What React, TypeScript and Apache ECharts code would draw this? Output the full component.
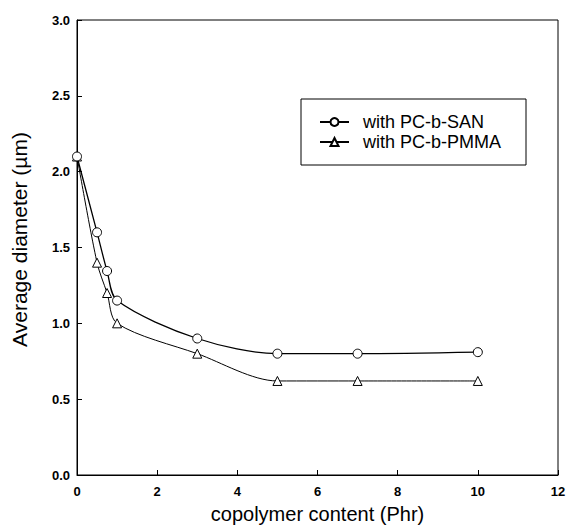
import React, { useEffect, useRef } from "react";
import * as echarts from "echarts";

const xContent = [0, 0.5, 0.75, 1, 3, 5, 7, 10];
const sanDiameter = [2.1, 1.6, 1.345, 1.15, 0.9, 0.8, 0.8, 0.81];
const pmmaDiameter = [2.1, 1.4, 1.2, 1.0, 0.8, 0.62, 0.62, 0.62];
const seriesNames = ["with PC-b-SAN", "with PC-b-PMMA"];
const xTitle = "copolymer content (Phr)";
const yTitle = "Average diameter (\u00b5m)";

const FONT = "'Liberation Sans', Arial, Helvetica, sans-serif";

export default function App() {
  const ref = useRef<HTMLDivElement>(null);
  useEffect(() => {
    if (!ref.current) return;
    const chart = echarts.init(ref.current, null, { renderer: "svg" });
    const pair = (ys: number[]) => xContent.map((x, i) => [x, ys[i]]);
    chart.setOption({
      animation: false,
      backgroundColor: "#ffffff",
      grid: {
        left: 77,
        right: 10,
        top: 20,
        bottom: 53,
        outerBoundsMode: "none",
        containLabel: false,
        show: true,
        borderColor: "#000",
        borderWidth: 1,
        backgroundColor: "transparent",
      },
      legend: {
        orient: "vertical",
        left: 301,
        top: 99,
        padding: [14, 25, 14, 18],
        itemGap: 2,
        itemWidth: 29,
        itemHeight: 10,
        borderColor: "#000",
        borderWidth: 1,
        backgroundColor: "#fff",
        textStyle: {
          fontFamily: FONT,
          fontSize: 18,
          color: "#000",
          lineHeight: 16,
          padding: [0, 0, 0, 9],
        },
        data: seriesNames,
      },
      xAxis: {
        type: "value",
        min: 0,
        max: 12,
        interval: 2,
        name: xTitle,
        nameLocation: "middle",
        nameGap: 29,
        nameTextStyle: { fontFamily: FONT, fontSize: 20, color: "#000" },
        axisLine: { show: true, lineStyle: { color: "#000", width: 1 } },
        axisTick: { show: true, inside: true, length: 5, lineStyle: { color: "#000" } },
        axisLabel: {
          fontFamily: FONT,
          fontWeight: "bold",
          fontSize: 13,
          color: "#000",
          margin: 10,
        },
        splitLine: { show: false },
      },
      yAxis: {
        type: "value",
        min: 0,
        max: 3,
        interval: 0.5,
        name: yTitle,
        nameLocation: "middle",
        nameGap: 47,
        nameTextStyle: {
          fontFamily: FONT,
          fontSize: 21,
          color: "#000",
          padding: [0, 0, 0, 16],
        },
        axisLine: { show: true, lineStyle: { color: "#000", width: 1 } },
        axisTick: { show: true, inside: true, length: 5, lineStyle: { color: "#000" } },
        axisLabel: {
          fontFamily: FONT,
          fontWeight: "bold",
          fontSize: 13,
          color: "#000",
          margin: 7,
          formatter: (v: number) => v.toFixed(1),
        },
        splitLine: { show: false },
      },
      series: [
        {
          name: seriesNames[0],
          type: "line",
          data: pair(sanDiameter),
          smooth: 0.3,
          symbol: "circle",
          symbolSize: 9,
          lineStyle: { color: "#000", width: 1.3 },
          itemStyle: { color: "#fff", borderColor: "#000", borderWidth: 1 },
          z: 3,
        },
        {
          name: seriesNames[1],
          type: "line",
          data: pair(pmmaDiameter),
          smooth: 0.3,
          symbol: "triangle",
          symbolSize: 9,
          lineStyle: { color: "#000", width: 1 },
          itemStyle: { color: "#fff", borderColor: "#000", borderWidth: 1 },
          z: 2,
        },
      ],
    });
    return () => chart.dispose();
  }, []);
  return <div ref={ref} style={{ width: 568, height: 528, position: "absolute", left: 0, top: 0 }} />;
}
